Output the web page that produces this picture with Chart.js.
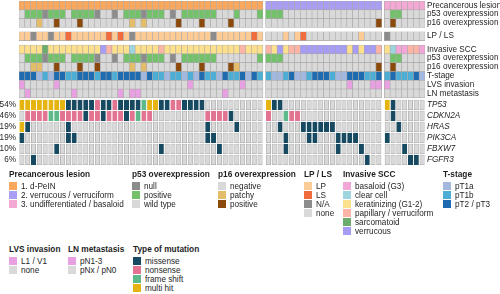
<!DOCTYPE html>
<html>
<head>
<meta charset="utf-8">
<script src="https://cdn.jsdelivr.net/npm/chart.js@4.4.1/dist/chart.umd.min.js"></script>
<style>
  html, body { margin: 0; padding: 0; background: #fff; }
  body { width: 500px; height: 294px; position: relative; overflow: hidden;
         font-family: "Liberation Sans", Arial, sans-serif; color: #1e1e1e; }
  #wrap { position: absolute; left: 0; top: 0; width: 500px; height: 170px; }
  .lg { position: absolute; font-size: 8.2px; line-height: 9px; }
  .lg b { display: block; font-size: 8.3px; height: 12px; line-height: 9px; }
  .it { height: 9px; position: relative; padding-left: 12px; white-space: nowrap; }
  .it i { position: absolute; left: 0; top: 0.5px; width: 8px; height: 8px; }
</style>
</head>
<body>
<div id="wrap"><canvas id="onco" width="500" height="170"></canvas></div>
<div id="legend"></div>
<script>
// oncoprint: 3 patient groups (d-PeIN | verrucous | undifferentiated), one character per patient
// spaces are only for reading, "|" splits the groups

const precancerous = "1111111111 1111111111 1111111111 1111111111 11 | 2222222222 2222222222 | 3333333";
const p53Pre       = "WPPPNPPPWP PPPNWWNWPP PNPPPWNWPP PPPPWWWPWW WP | PPPWWWWWWW WWWWWWWWWW | WPPWWWW";
const p16Pre       = "nnntnnbnnn bnnnnnnnnt ntnnnnnbnn nbnnnnbnnn nn | nnnnnnnnnn nnnnnnnnnb | nbnnnnn";
const lpls         = "LLALLALLSL LLLLLSLSLA LLLLLLLLLL LLLALLLLLL SL | oooLoLSooo ooooooLooo | Aoooooo";
const invasiveScc  = "kkkkskkkkk kkkkvpkkkc kkkkpkkkkk kkkkkkkkpk kk | pkvkppvvvv vvvvkvkvvp | kcbbppb";
const p53Inv       = "WPPPNPPPWP PPPNWWNWPP PNPPPWNWPP PPPPWWWWWW WP | PPPWWWWWWW WWWWWWWWWW | WPPWWWW";
const p16Inv       = "nnttnnbnnn bnnbnnnnnt ntnnnnnbnn nbnnnnbtnn nn | nnnnnnnnnn nnnnnnnnnb | nbnnnnn";
const tStage       = "dddabaddbb dddbddbddd dadbbabbab adbbadbbda db | baabdaabdd dbaadddbbd | bdbbbda";
const lvs          = "LoooooLooo oooooooooo oooooooooL ooooooooLo oo | oooooooooo ooooLoooLL | Loooooo";
const lnMeta       = "oNoooooooN oooooooNoN Nooooooooo oooooNoooo oo | oooooooooo oooooooooo | ooooooo";

const tp53   = "hhhhhhhhmm mmmnmmnmmm mfhhmmnnmm mm........ .. | hmm....... .......... | hm.....";
const cdkn2a = ".nnnnffnnn nmnnmnnnmn fnn....... ..nnnnm... .. | n..fnn.... .......... | .m.....";
const hras   = "hm......m. .......... .......... ..m....m.. .. | ..m...mmmm mm........ | ..m....";
const pik3ca = "m.......mm .......... .......... ..mm...... .. | ...m...mm. ..mmmm.... | m......";
const fbxw7  = "......m... .......... ....m..... ....m..... .. | ...m...... ..m...m... | ...m...";
const fgfr3  = "..m....... .......... .......... .......... .. | .......... .......m.. | ....mm.";

const annotationLabels = ["Precancerous lesion", "p53 overexpression", "p16 overexpression", "LP / LS",
  "Invasive SCC", "p53 overexpression", "p16 overexpression", "T-stage", "LVS invasion", "LN metastasis"];
const geneLabels = ["TP53", "CDKN2A", "HRAS", "PIK3CA", "FBXW7", "FGFR3"];
const percentLabels = ["54%", "46%", "19%", "19%", "10%", "6%"];

const pal = {
  pre:  { "1": "#F9A85D", "2": "#A89EF4", "3": "#F4A8D4" },
  p53:  { N: "#8C8C8C", P: "#73C16B", W: "#D9D9D9" },
  p16:  { n: "#D9D9D9", t: "#E3BD6A", b: "#8B4A0C" },
  lp:   { L: "#FDCB95", S: "#F26B3D", A: "#8C8C8C", o: "#D9D9D9" },
  scc:  { b: "#F3A7D8", c: "#9ED4DE", k: "#FDE08D", p: "#FBB4A6", s: "#6BAB6B", v: "#A79CF5" },
  t:    { a: "#A3B8DE", b: "#4CAED5", d: "#1E6BB0" },
  pink: { L: "#E8A0E2", N: "#E8A0E2", o: "#D9D9D9" },
  mut:  { m: "#174A60", n: "#E27491", f: "#5DB98A", h: "#E5B412", ".": "#D9D9D9" }
};

const FONT = '"Liberation Sans", Arial, sans-serif';
const GAP = 0.45;        // gap between patient groups, in columns

// columns
const groups = precancerous.replace(/ /g, "").split("|");
const colX = [];
let start = 0;
groups.forEach((g, gi) => {
  for (let j = 0; j < g.length; j++) colX.push(start + j + 0.5);
  start += g.length + GAP;
});
const xMax = start - GAP;

// rows: [codes, palette, top, height, mutation?]
const rows = [
  [precancerous, pal.pre, 0], [p53Pre, pal.p53, 1], [p16Pre, pal.p16, 2],
  [lpls, pal.lp, 3.5],
  [invasiveScc, pal.scc, 5], [p53Inv, pal.p53, 6], [p16Inv, pal.p16, 7],
  [tStage, pal.t, 8], [lvs, pal.pink, 9], [lnMeta, pal.pink, 10]
].map(r => ({ codes: r[0], pal: r[1], y0: r[2], h: 1, mut: false }));
[tp53, cdkn2a, hras, pik3ca, fbxw7, fgfr3].forEach((s, i) => {
  rows.push({ codes: s, pal: pal.mut, y0: 11.25 + 1.25 * i, h: 1.1, mut: true });
});

const rowCenters = rows.map(r => r.y0 + r.h / 2);
const mutCenters = rows.filter(r => r.mut).map(r => r.y0 + r.h / 2);

const datasets = rows.map(r => {
  const codes = r.codes.replace(/[ |]/g, "").split("");
  return {
    data: codes.map((c, i) => ({ x: colX[i], y: [r.y0, r.y0 + r.h] })),
    backgroundColor: codes.map(c => r.pal[c]),
    borderColor: r.mut ? codes.map(c => c === "." ? "#A3A3A3" : r.pal[c]) : "#A8A8A8",
    borderWidth: 0.6,
    borderSkipped: false,
    barThickness: r.mut ? 4.4 : 5.81,
    grouped: false
  };
});

const noPad = w => s => { s.width = w; s.paddingTop = 0; s.paddingBottom = 0; };

new Chart(document.getElementById("onco"), {
  type: "bar",
  data: { datasets },
  options: {
    responsive: false,
    animation: false,
    layout: { padding: { top: 1, bottom: 1.8, left: 0, right: 0 } },
    plugins: { legend: { display: false }, tooltip: { enabled: false } },
    scales: {
      x: { type: "linear", display: false, min: 0, max: xMax, offset: false },
      y: {
        type: "linear", position: "left", reverse: true, min: 0, max: 19,
        grid: { display: false, drawTicks: false }, border: { display: false },
        afterBuildTicks: s => { s.ticks = mutCenters.map(v => ({ value: v })); },
        afterFit: noPad(19),
        ticks: { autoSkip: false, padding: 3, color: "#1e1e1e",
                 font: { family: FONT, size: 8.2 },
                 callback: (v, i) => percentLabels[i] }
      },
      yR: {
        type: "linear", position: "right", reverse: true, min: 0, max: 19,
        grid: { display: false, drawTicks: false }, border: { display: false },
        afterBuildTicks: s => { s.ticks = rowCenters.map(v => ({ value: v })); },
        afterFit: noPad(75),
        ticks: { autoSkip: false, padding: 2, color: "#1e1e1e",
                 font: ctx => ({ family: FONT, size: 8.2, style: ctx.index >= 10 ? "italic" : "normal" }),
                 callback: (v, i) => annotationLabels.concat(geneLabels)[i] }
      }
    }
  }
});

// legend blocks below the grid
const legendDefs = [
  ["Precancerous lesion", 9, 169.5, [["1. d-PeIN", pal.pre["1"]], ["2. verrucous / verruciform", pal.pre["2"]], ["3. undifferentiated / basaloid", pal.pre["3"]]]],
  ["p53 overexpression", 132, 169.5, [["null", pal.p53.N], ["positive", pal.p53.P], ["wild type", pal.p53.W]]],
  ["p16 overexpression", 218, 169.5, [["negative", pal.p16.n], ["patchy", pal.p16.t], ["positive", pal.p16.b]]],
  ["LP / LS", 304, 169.5, [["LP", pal.lp.L], ["LS", pal.lp.S], ["N/A", pal.lp.A], ["none", pal.lp.o]]],
  ["Invasive SCC", 343, 169.5, [["basaloid (G3)", pal.scc.b], ["clear cell", pal.scc.c], ["keratinizing (G1-2)", pal.scc.k],
    ["papillary / verruciform", pal.scc.p], ["sarcomatoid", pal.scc.s], ["verrucous", pal.scc.v]]],
  ["T-stage", 443, 169.5, [["pT1a", pal.t.a], ["pT1b", pal.t.b], ["pT2 / pT3", pal.t.d]]],
  ["LVS invasion", 9, 244.5, [["L1 / V1", pal.pink.L], ["none", pal.pink.o]]],
  ["LN metastasis", 68, 244.5, [["pN1-3", pal.pink.N], ["pNx / pN0", pal.pink.o]]],
  ["Type of mutation", 133, 244.5, [["missense", pal.mut.m], ["nonsense", pal.mut.n], ["frame shift", pal.mut.f], ["multi hit", pal.mut.h]]]
];

const legend = document.getElementById("legend");
legendDefs.forEach(([title, x, y, items]) => {
  const d = document.createElement("div");
  d.className = "lg";
  d.style.left = x + "px";
  d.style.top = y + "px";
  d.innerHTML = "<b>" + title + "</b>" +
    items.map(([t, c]) => '<div class="it"><i style="background:' + c + '"></i>' + t + "</div>").join("");
  legend.appendChild(d);
});
</script>
</body>
</html>
